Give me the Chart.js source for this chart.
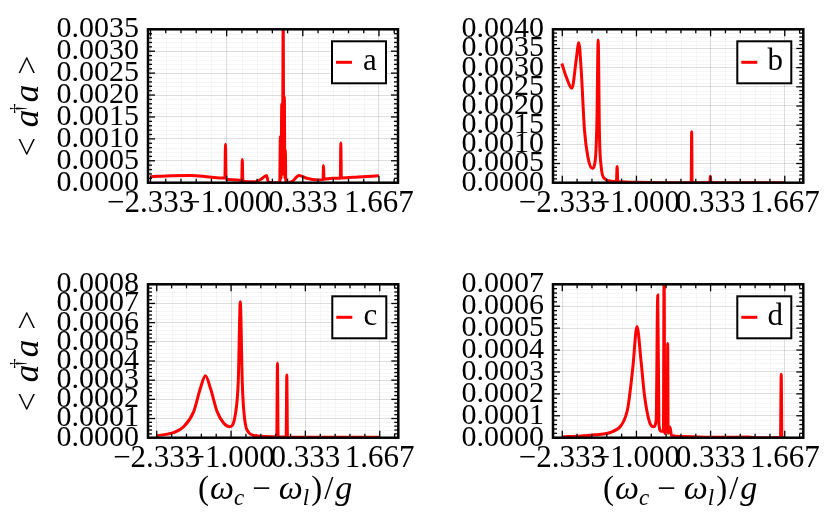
<!DOCTYPE html>
<html><head><meta charset="utf-8">
<script src="https://cdn.jsdelivr.net/npm/chart.js@4.4.0/dist/chart.umd.min.js"></script>
<style>
body{margin:0;background:#fff}
#wrap{position:relative;width:836px;height:531px;background:#fff}
canvas{position:absolute;left:0;top:0}
</style></head>
<body><div id="wrap">
<canvas id="ca" width="836" height="531"></canvas>
<canvas id="cb" width="836" height="531"></canvas>
<canvas id="cc" width="836" height="531"></canvas>
<canvas id="cd" width="836" height="531"></canvas>
</div>
<script>
// ---- tick labels ----
const xTickVals = [-2.333, -1.0, 0.333, 1.667];
const yTicksA = [0, 0.0005, 0.0010, 0.0015, 0.0020, 0.0025, 0.0030, 0.0035];
const yTicksB = [0, 0.0005, 0.0010, 0.0015, 0.0020, 0.0025, 0.0030, 0.0035, 0.0040];
const yTicksC = [0, 0.0001, 0.0002, 0.0003, 0.0004, 0.0005, 0.0006, 0.0007, 0.0008];
const yTicksD = [0, 0.0001, 0.0002, 0.0003, 0.0004, 0.0005, 0.0006, 0.0007];

// ---- series (x = (wc - wl)/g, y = <a†a>) ----
const xA = [-2.333,-1.95,-1.63,-1.3,-1.05,-1.03,-1.02,-1.01,-0.9,-0.75,-0.735,-0.726,-0.717,-0.62,-0.49,-0.40,-0.30,-0.27,-0.2,-0.1,-0.07,-0.06,-0.048,-0.035,-0.022,-0.01,0.0,0.01,0.02,0.028,0.036,0.08,0.15,0.265,0.4,0.6,0.688,0.696,0.704,0.85,0.99,0.999,1.008,1.3,1.667];
const yA = [0.000137,0.00016,0.000167,0.00013,0.000106,0.00012,0.00088,0.00008,0.00007,0.00005,0.00006,0.00053,0.00004,0.00002,0.00002,0.00008,0.000167,0.00001,0.0,0.0,0.0,0.00105,0.0001,0.0018,0.0002,0.0038,0.0003,0.00196,0.0001,0.00075,0.0,0.0,0.00003,0.000167,0.0001,0.00006,0.00007,0.00039,0.00008,0.0001,0.0001,0.00091,0.00011,0.00013,0.00016];

const xB = [-2.341,-2.262,-2.16,-2.083,-2.036,-1.993,-1.934,-1.874,-1.795,-1.74,-1.71,-1.688,-1.664,-1.634,-1.575,-1.454,-1.36,-1.347,-1.335,-1.0,-0.5,-0.015,-0.007,0.001,0.32,0.329,0.338,1.0,1.667];
const yB = [0.00311,0.00276,0.00246,0.0032,0.00365,0.00294,0.00137,0.00068,0.000375,0.00059,0.00163,0.00372,0.0012,0.00042,0.00011,0.00004,0.00003,0.00042,0.00003,0.00001,0.0,0.0,0.00133,0.0,0.0,0.00017,0.0,0.0,0.0];

const xC = [-2.333,-2.02,-1.85,-1.67,-1.55,-1.46,-1.37,-1.25,-1.13,-1.025,-0.925,-0.87,-0.834,-0.80,-0.775,-0.714,-0.55,-0.18,-0.168,-0.156,-0.012,0.0,0.012,1.667];
const yC = [0.00001,0.000028,0.000057,0.000136,0.000258,0.000323,0.000258,0.000136,0.000075,0.000057,0.000118,0.0003,0.000709,0.0003,0.000153,0.00004,0.00001,0.000005,0.000388,0.000004,0.000004,0.000327,0.000003,0.000002];

const xD = [-2.333,-2.0,-1.74,-1.44,-1.27,-1.156,-1.066,-0.99,-0.916,-0.856,-0.767,-0.69,-0.645,-0.617,-0.595,-0.56,-0.515,-0.503,-0.49,-0.46,-0.445,-0.438,-0.43,-0.41,-0.39,-0.37,-0.2,0.5,1.0,1.2,1.59,1.603,1.615,1.667];
const yD = [0.000004,0.000008,0.000013,0.000027,0.000058,0.000134,0.000317,0.000507,0.000347,0.000195,0.000073,0.00005,0.00008,0.000651,0.00006,0.00003,0.00003,0.00078,0.00002,0.00003,0.00004,0.00043,0.00002,0.00005,0.00004,0.00001,0.000005,0.000002,0.000003,0.0,0.0,0.000289,0.0,0.0];

const yTitleParts = ['<', 'a', '\u2020', 'a', '>'];
const xTitleParts = ['(', '\u03c9', 'c', '\u2212', '\u03c9', 'l', ')', '/', 'g'];

const SERIF = '"Liberation Serif", "DejaVu Serif", serif';
const WY = 100, HX = 60;

function drawYTitle(ctx, cx, cy) {
  ctx.save();
  ctx.translate(cx, cy);
  ctx.rotate(-Math.PI / 2);
  ctx.fillStyle = '#000';
  ctx.textBaseline = 'alphabetic';
  ctx.textAlign = 'left';
  const segs = [
    {t: yTitleParts[0], f: '34px ' + SERIF, dy: 0, after: 10},
    {t: yTitleParts[1], f: 'italic 35px ' + SERIF, dy: 0, after: -4},
    {t: yTitleParts[2], f: '21px ' + SERIF, dy: -14, after: 1},
    {t: yTitleParts[3], f: 'italic 35px ' + SERIF, dy: 0, after: 10},
    {t: yTitleParts[4], f: '34px ' + SERIF, dy: 0, after: 0}
  ];
  let total = 0;
  segs.forEach(s => { ctx.font = s.f; s.w = ctx.measureText(s.t).width; total += s.w + s.after; });
  let x = -total / 2;
  segs.forEach(s => { ctx.font = s.f; ctx.fillText(s.t, x, s.dy); x += s.w + s.after; });
  ctx.restore();
}

function drawXTitle(ctx, cx, baseline) {
  ctx.save();
  ctx.fillStyle = '#000';
  ctx.textBaseline = 'alphabetic';
  ctx.textAlign = 'left';
  const segs = [
    {t: xTitleParts[0], f: '33px ' + SERIF, dy: 0, after: 1},
    {t: xTitleParts[1], f: 'italic 34px ' + SERIF, dy: 0, after: 0},
    {t: xTitleParts[2], f: 'italic 23px ' + SERIF, dy: 6, after: 8},
    {t: xTitleParts[3], f: '33px ' + SERIF, dy: 0, after: 8},
    {t: xTitleParts[4], f: 'italic 34px ' + SERIF, dy: 0, after: 0},
    {t: xTitleParts[5], f: 'italic 23px ' + SERIF, dy: 6, after: 2},
    {t: xTitleParts[6], f: '33px ' + SERIF, dy: 0, after: 2},
    {t: xTitleParts[7], f: '33px ' + SERIF, dy: 0, after: 2},
    {t: xTitleParts[8], f: 'italic 34px ' + SERIF, dy: 0, after: 0}
  ];
  let total = 0;
  segs.forEach(s => { ctx.font = s.f; s.w = ctx.measureText(s.t).width; total += s.w + s.after; });
  let x = cx - total / 2;
  segs.forEach(s => { ctx.font = s.f; ctx.fillText(s.t, x, baseline + s.dy); x += s.w + s.after; });
  ctx.restore();
}

const decorPlugin = {
  id: 'decor',
  beforeDatasetsDraw(chart) {
    const {ctx, chartArea: a, scales: {x, y}} = chart;
    const o = chart.options.plugins.decor;
    ctx.save();
    ctx.strokeStyle = 'rgba(0,0,0,0.035)';
    ctx.lineWidth = 1;
    o.xMinor.forEach(v => { const p = Math.round(x.getPixelForValue(v)) + 0.5; ctx.beginPath(); ctx.moveTo(p, a.top); ctx.lineTo(p, a.bottom); ctx.stroke(); });
    o.yMinor.forEach(v => { const p = Math.round(y.getPixelForValue(v)) + 0.5; ctx.beginPath(); ctx.moveTo(a.left, p); ctx.lineTo(a.right, p); ctx.stroke(); });
    ctx.restore();
  },
  afterDraw(chart) {
    const {ctx, chartArea: a, scales: {x, y}} = chart;
    const o = chart.options.plugins.decor;
    ctx.save();
    ctx.strokeStyle = '#000';
    ctx.lineWidth = 1.3;
    const tick = (vals, len, isX) => {
      vals.forEach(v => {
        if (isX) {
          const p = x.getPixelForValue(v);
          if (p < a.left || p > a.right) return;
          ctx.beginPath(); ctx.moveTo(p, a.bottom); ctx.lineTo(p, a.bottom - len); ctx.stroke();
          ctx.beginPath(); ctx.moveTo(p, a.top); ctx.lineTo(p, a.top + len); ctx.stroke();
        } else {
          const p = y.getPixelForValue(v);
          if (p < a.top - 0.5 || p > a.bottom + 0.5) return;
          ctx.beginPath(); ctx.moveTo(a.left, p); ctx.lineTo(a.left + len, p); ctx.stroke();
          ctx.beginPath(); ctx.moveTo(a.right, p); ctx.lineTo(a.right - len, p); ctx.stroke();
        }
      });
    };
    tick(o.xMinor, 4, true); tick(xTickVals, 7, true);
    tick(o.yMinor, 4, false); tick(o.yMajor, 7, false);
    ctx.lineWidth = 2.5;
    ctx.strokeRect(a.left, a.top, a.right - a.left, a.bottom - a.top);
    const ds = chart.data.datasets[0];
    const bw = 54, bh = 42;
    const bx = a.right - 12 - bw, by = a.top + 12;
    ctx.fillStyle = '#fff';
    ctx.fillRect(bx, by, bw, bh);
    ctx.lineWidth = 2;
    ctx.strokeStyle = '#000';
    ctx.strokeRect(bx, by, bw, bh);
    ctx.strokeStyle = ds.borderColor;
    ctx.lineWidth = 3;
    ctx.beginPath(); ctx.moveTo(bx + 4, by + bh / 2); ctx.lineTo(bx + 20, by + bh / 2); ctx.stroke();
    ctx.fillStyle = '#000';
    ctx.font = '31px ' + SERIF;
    ctx.textAlign = 'center';
    ctx.textBaseline = 'alphabetic';
    ctx.fillText(ds.label, bx + 38, by + bh / 2 + 8);
    ctx.restore();
    if (o.yTitle) drawYTitle(ctx, 38, (a.top + a.bottom) / 2);
    if (o.xTitle) drawXTitle(ctx, (a.left + a.right) / 2 + 2, 499);
  }
};

function minorList(start, step, lo, hi, majors) {
  const out = [];
  for (let i = -40; i <= 40; i++) {
    const v = start + i * step;
    if (v < lo - 1e-9 || v > hi + 1e-9) continue;
    if (majors.some(m => Math.abs(m - v) < step * 0.1)) continue;
    out.push(v);
  }
  return out;
}

function makePanel(id, label, xs, ys, yTicks, xMin, xMax, area, yTitle, xTitle) {
  const yMax = yTicks[yTicks.length - 1];
  const yStep = yTicks[1] - yTicks[0];
  const xMinor = minorList(-2.333, 1.3333 / 5, xMin, xMax, xTickVals);
  const yMinor = minorList(0, yStep / 5, 0, yMax, yTicks);
  new Chart(document.getElementById(id), {
    type: 'line',
    data: {
      datasets: [{
        label: label,
        data: xs.map((v, i) => ({x: v, y: ys[i]})),
        borderColor: '#ff0000',
        borderWidth: 3,
        pointRadius: 0,
        fill: false,
        cubicInterpolationMode: 'monotone'
      }]
    },
    options: {
      responsive: false,
      animation: false,
      events: [],
      layout: {padding: {left: area.l - WY, right: 836 - area.r, top: area.t, bottom: 531 - area.b - HX}},
      plugins: {
        legend: {display: false},
        tooltip: {enabled: false},
        decor: {xMinor, yMinor, yMajor: yTicks, yTitle, xTitle}
      },
      scales: {
        x: {
          type: 'linear', min: xMin, max: xMax,
          afterBuildTicks: s => { s.ticks = xTickVals.map(v => ({value: v})); },
          afterFit: s => { s.height = HX; },
          grid: {color: 'rgba(0,0,0,0.13)', lineWidth: 1, drawTicks: false},
          border: {display: false},
          ticks: {
            autoSkip: false, maxRotation: 0, minRotation: 0, padding: 3,
            color: '#000', font: {family: SERIF, size: 31},
            callback: v => (v < 0 ? '\u2212' : '') + Math.abs(v).toFixed(3)
          }
        },
        y: {
          type: 'linear', min: 0, max: yMax,
          afterBuildTicks: s => { s.ticks = yTicks.map(v => ({value: v})); },
          afterFit: s => { s.width = WY; },
          grid: {color: 'rgba(0,0,0,0.13)', lineWidth: 1, drawTicks: false},
          border: {display: false},
          ticks: {
            autoSkip: false, padding: 9,
            color: '#000', font: {family: SERIF, size: 30},
            callback: v => Number(v).toFixed(4)
          }
        }
      }
    },
    plugins: [decorPlugin]
  });
}

makePanel('ca', 'a', xA, yA, yTicksA, -2.377, 2.0, {l: 148, r: 398, t: 29.3, b: 182.7}, true, false);
makePanel('cb', 'b', xB, yB, yTicksB, -2.5, 2.0, {l: 553, r: 803.3, t: 29.3, b: 182.7}, false, false);
makePanel('cc', 'c', xC, yC, yTicksC, -2.49, 2.0, {l: 148, r: 398.3, t: 284.3, b: 437.7}, true, true);
makePanel('cd', 'd', xD, yD, yTicksD, -2.5, 2.0, {l: 553, r: 803.3, t: 284.3, b: 437.7}, false, true);
</script>
</body></html>
